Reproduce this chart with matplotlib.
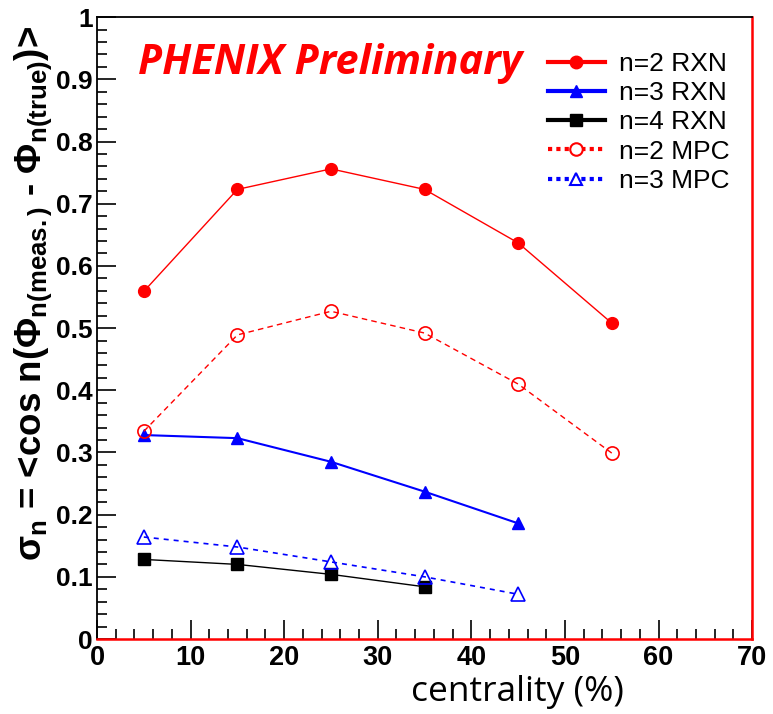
import matplotlib.pyplot as plt
from matplotlib.lines import Line2D
from matplotlib.ticker import MultipleLocator

plt.rcParams['mathtext.fontset'] = 'custom'
plt.rcParams['mathtext.rm'] = 'Liberation Sans:bold'
plt.rcParams['mathtext.it'] = 'Liberation Sans:bold'
plt.rcParams['mathtext.bf'] = 'Liberation Sans:bold'

cent = [5, 15, 25, 35, 45, 55]
n2_rxn = [0.559, 0.723, 0.756, 0.723, 0.637, 0.508]
n3_rxn = [0.328, 0.323, 0.285, 0.237, 0.186]
n4_rxn = [0.128, 0.120, 0.104, 0.084]
n2_mpc = [0.334, 0.489, 0.527, 0.492, 0.410, 0.299]
n3_mpc = [0.164, 0.148, 0.124, 0.100, 0.072]
xticks = [0, 10, 20, 30, 40, 50, 60, 70]
yticks = [0.0, 0.1, 0.2, 0.3, 0.4, 0.5, 0.6, 0.7, 0.8, 0.9, 1.0]
ylabels = ['0', '0.1', '0.2', '0.3', '0.4', '0.5', '0.6', '0.7', '0.8', '0.9', '1']
labels = ['n=2 RXN', 'n=3 RXN', 'n=4 RXN', 'n=2 MPC', 'n=3 MPC']

fig = plt.figure(figsize=(7.73, 7.14), dpi=100)
ax = fig.add_axes([0.1255, 0.105, 0.8475, 0.871])

ax.plot(cent, n2_rxn, '-', color='red', lw=1.0, marker='o', ms=8.5, mec='red', mfc='red')
ax.plot(cent[:5], n3_rxn, '-', color='blue', lw=1.5, marker='^', ms=8.5, mec='blue', mfc='blue')
ax.plot(cent[:4], n4_rxn, '-', color='black', lw=1.0, marker='s', ms=8.5, mec='black', mfc='black')
ax.plot(cent, n2_mpc, '--', color='red', lw=1.0, dashes=(4, 3), marker='o', ms=9.5,
        mec='red', mfc='none', mew=1.2)
ax.plot(cent[:5], n3_mpc, '--', color='blue', lw=1.2, dashes=(3, 3), marker='^', ms=9.5,
        mec='blue', mfc='none', mew=1.2)

ax.set_xlim(0, 70)
ax.set_ylim(0, 1)
ax.xaxis.set_minor_locator(MultipleLocator(2))
ax.yaxis.set_minor_locator(MultipleLocator(0.02))
ax.tick_params(which='both', direction='in', top=False, right=False, color='black')
ax.tick_params(which='major', length=14, width=1.2)
ax.tick_params(which='minor', length=7, width=1.2)
ax.tick_params(axis='x', pad=4)
ax.tick_params(axis='y', pad=3)

ax.set_xticks(xticks)
ax.set_xticklabels([str(v) for v in xticks], fontsize=19.5, fontweight='bold',
                   family='Liberation Sans')
ax.set_yticks(yticks)
ax.set_yticklabels(ylabels, fontsize=19, fontweight='bold', family='Liberation Sans')

for s in ['top', 'left']:
    ax.spines[s].set_color('black')
    ax.spines[s].set_linewidth(1.3)
for s in ['bottom', 'right']:
    ax.spines[s].set_color('red')
    ax.spines[s].set_linewidth(1.8)

ax.text(0.063, 0.926, 'PHENIX Preliminary', transform=ax.transAxes, color='red',
        fontsize=30, fontweight='bold', style='italic', family='Open Sans', va='center')

handles = [
    Line2D([], [], color='red', lw=3, marker='o', ms=9, mfc='red', mec='red'),
    Line2D([], [], color='blue', lw=3, marker='^', ms=9, mfc='blue', mec='blue'),
    Line2D([], [], color='black', lw=3, marker='s', ms=9, mfc='black', mec='black'),
    Line2D([], [], color='red', lw=3, ls=(0, (1, 1)), marker='o', ms=9, mfc='white',
           mec='red', mew=1.5),
    Line2D([], [], color='blue', lw=3, ls=(0, (1, 1)), marker='^', ms=9, mfc='white',
           mec='blue', mew=1.5),
]
ax.legend(handles, labels, loc='upper left', bbox_to_anchor=(0.66, 0.974), frameon=False,
          prop={'family': 'Liberation Sans', 'size': 19},
          handlelength=2.15, handletextpad=0.55, labelspacing=0.2, borderpad=0.2)

fig.text(0.043, 0.589,
         r'$\sigma_{n}$ = <cos n($\Phi_{n(meas.)}$ - $\Phi_{n(true)}$)>',
         rotation=90, fontsize=26.5, fontweight='bold', family='Liberation Sans',
         ha='center', va='center')
fig.text(0.669, 0.018, 'centrality (%)', fontsize=25.5, family='Open Sans',
         ha='center', va='baseline')

fig.savefig('out.png', dpi=100)
